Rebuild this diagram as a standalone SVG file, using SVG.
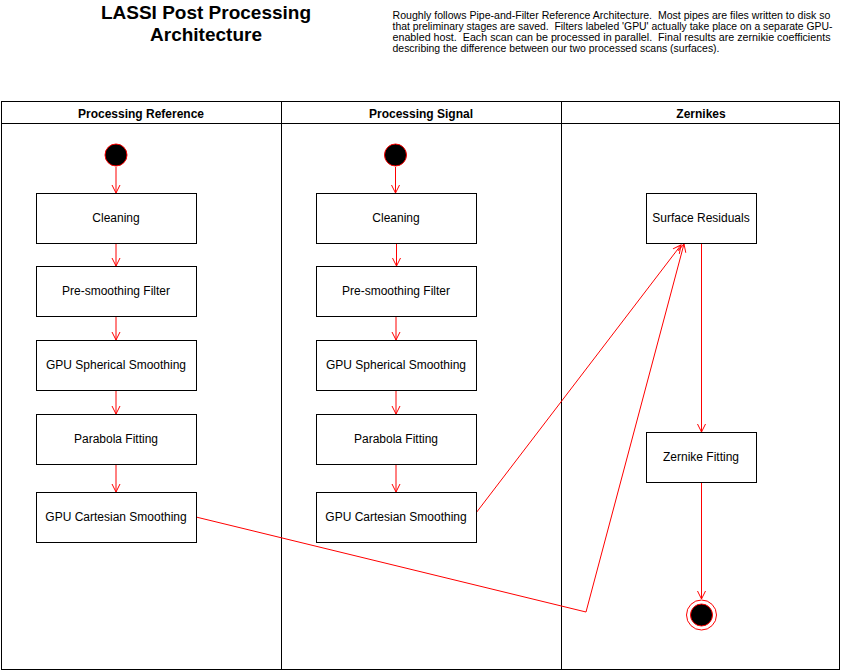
<svg xmlns="http://www.w3.org/2000/svg" width="841" height="671" viewBox="0 0 841 671">
<defs>
<marker id="open" viewBox="0 0 10 10" refX="9" refY="5" markerWidth="10" markerHeight="10" markerUnits="userSpaceOnUse" orient="auto">
<path d="M1,1 L9,5 L1,9" fill="none" stroke="#ff0000" stroke-width="1"/>
</marker>
<style>
.lane{fill:none;stroke:#000;stroke-width:1}
.box{fill:#fff;stroke:#000;stroke-width:1}
.lbl{font-family:"Liberation Sans",Arial,sans-serif;font-size:12px;fill:#000;text-anchor:middle}
.hdr{font-family:"Liberation Sans",Arial,sans-serif;font-size:12px;font-weight:bold;fill:#000;text-anchor:middle}
.title{font-family:"Liberation Sans",Arial,sans-serif;font-size:19px;font-weight:bold;fill:#000;text-anchor:middle}
.desc{font-family:"Liberation Sans",Arial,sans-serif;font-size:10.3px;fill:#000;white-space:pre}
.edge{fill:none;stroke:#ff0000;stroke-width:1;marker-end:url(#open)}
</style>
</defs>
<rect width="841" height="671" fill="#fff"/>
<g id="title">
<text class="title" x="206" y="19">LASSI Post Processing</text>
<text class="title" x="206" y="41">Architecture</text>
</g>
<g id="description">
<text class="desc" x="392.5" y="19" xml:space="preserve" textLength="438" lengthAdjust="spacingAndGlyphs">Roughly follows Pipe-and-Filter Reference Architecture.  Most pipes are files written to disk so</text>
<text class="desc" x="392.5" y="30" xml:space="preserve" textLength="440" lengthAdjust="spacingAndGlyphs">that preliminary stages are saved.  Filters labeled 'GPU' actually take place on a separate GPU-</text>
<text class="desc" x="392.5" y="41" xml:space="preserve" textLength="438" lengthAdjust="spacingAndGlyphs">enabled host.  Each scan can be processed in parallel.  Final results are zernikie coefficients</text>
<text class="desc" x="392.5" y="52" xml:space="preserve" textLength="327" lengthAdjust="spacingAndGlyphs">describing the difference between our two processed scans (surfaces).</text>
</g>
<g id="lanes">
<rect class="lane" x="1.5" y="101.5" width="838" height="568"/>
<line class="lane" x1="1.5" y1="123.5" x2="839.5" y2="123.5"/>
<line class="lane" x1="281.5" y1="101.5" x2="281.5" y2="669.5"/>
<line class="lane" x1="561.5" y1="101.5" x2="561.5" y2="669.5"/>
<text class="hdr" x="141" y="118">Processing Reference</text>
<text class="hdr" x="421" y="118">Processing Signal</text>
<text class="hdr" x="701" y="118">Zernikes</text>
</g>
<g id="connectors">
<line class="edge" x1="116" y1="167" x2="116" y2="193"/>
<line class="edge" x1="116" y1="243" x2="116" y2="266"/>
<line class="edge" x1="116" y1="316" x2="116" y2="340"/>
<line class="edge" x1="116" y1="390" x2="116" y2="414"/>
<line class="edge" x1="116" y1="464" x2="116" y2="492"/>
<line class="edge" x1="395.5" y1="167" x2="395.5" y2="193"/>
<line class="edge" x1="396.5" y1="243" x2="396.5" y2="266"/>
<line class="edge" x1="396" y1="316" x2="396" y2="340"/>
<line class="edge" x1="396" y1="390" x2="396" y2="414"/>
<line class="edge" x1="396" y1="464" x2="396" y2="492"/>
<polyline class="edge" points="196,517 586,612 684,244"/>
<line class="edge" x1="476" y1="513" x2="681" y2="245"/>
<line class="edge" x1="701.5" y1="243" x2="701.5" y2="432"/>
<line class="edge" x1="701.5" y1="482" x2="701.5" y2="599"/>
</g>
<g id="start-reference">
<circle cx="116" cy="155" r="11" fill="#000" stroke="#ff0000" stroke-width="1"/>
</g>
<g id="start-signal">
<circle cx="395.5" cy="155" r="11" fill="#000" stroke="#ff0000" stroke-width="1"/>
</g>
<g id="ref-cleaning"><rect class="box" x="36.5" y="193.5" width="160" height="50"/><text class="lbl" x="116" y="222">Cleaning</text></g>
<g id="ref-presmoothing"><rect class="box" x="36.5" y="266.5" width="160" height="50"/><text class="lbl" x="116" y="295">Pre-smoothing Filter</text></g>
<g id="ref-spherical"><rect class="box" x="36.5" y="340.5" width="160" height="50"/><text class="lbl" x="116" y="369">GPU Spherical Smoothing</text></g>
<g id="ref-parabola"><rect class="box" x="36.5" y="414.5" width="160" height="50"/><text class="lbl" x="116" y="443">Parabola Fitting</text></g>
<g id="ref-cartesian"><rect class="box" x="36.5" y="492.5" width="160" height="50"/><text class="lbl" x="116" y="521">GPU Cartesian Smoothing</text></g>
<g id="sig-cleaning"><rect class="box" x="316.5" y="193.5" width="160" height="50"/><text class="lbl" x="396" y="222">Cleaning</text></g>
<g id="sig-presmoothing"><rect class="box" x="316.5" y="266.5" width="160" height="50"/><text class="lbl" x="396" y="295">Pre-smoothing Filter</text></g>
<g id="sig-spherical"><rect class="box" x="316.5" y="340.5" width="160" height="50"/><text class="lbl" x="396" y="369">GPU Spherical Smoothing</text></g>
<g id="sig-parabola"><rect class="box" x="316.5" y="414.5" width="160" height="50"/><text class="lbl" x="396" y="443">Parabola Fitting</text></g>
<g id="sig-cartesian"><rect class="box" x="316.5" y="492.5" width="160" height="50"/><text class="lbl" x="396" y="521">GPU Cartesian Smoothing</text></g>
<g id="surface-residuals"><rect class="box" x="646.5" y="193.5" width="110" height="50"/><text class="lbl" x="701" y="222">Surface Residuals</text></g>
<g id="zernike-fitting"><rect class="box" x="646.5" y="432.5" width="110" height="50"/><text class="lbl" x="701" y="461">Zernike Fitting</text></g>
<g id="end">
<circle cx="701.5" cy="615" r="15" fill="#fff" stroke="#ff0000" stroke-width="1"/>
<circle cx="701.5" cy="615" r="11" fill="#000" stroke="#ff0000" stroke-width="1"/>
</g>
</svg>
